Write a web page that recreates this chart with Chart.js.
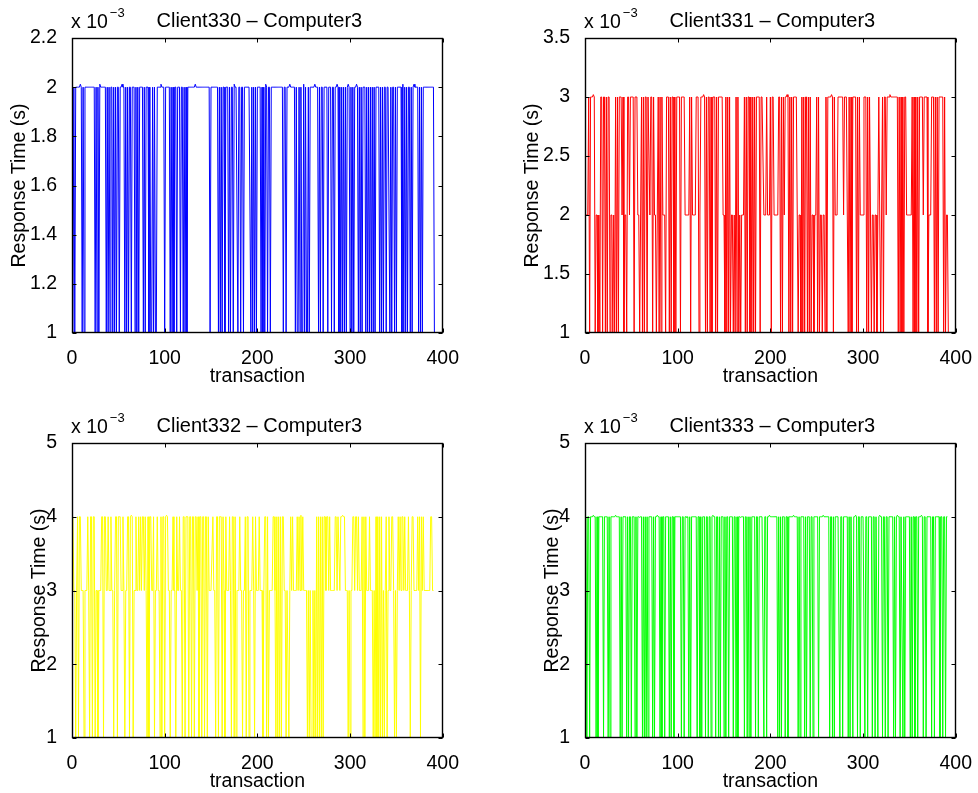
<!DOCTYPE html>
<html>
<head>
<meta charset="utf-8">
<title>Response Time – Computer3</title>
<script src="https://cdn.jsdelivr.net/npm/chart.js@4.4.0/dist/chart.umd.min.js"></script>
<style>
  html, body { margin: 0; padding: 0; background: #fff; overflow: hidden; }
  #fig { position: relative; width: 978px; height: 793px; }
  #fig canvas { position: absolute; }
</style>
</head>
<body>
<div id="fig">
  <canvas id="c330" width="465" height="388" style="left:0;top:0"></canvas>
  <canvas id="c331" width="465" height="388" style="left:513px;top:0"></canvas>
  <canvas id="c332" width="465" height="388" style="left:0;top:405px"></canvas>
  <canvas id="c333" width="465" height="388" style="left:513px;top:405px"></canvas>
</div>
<script>
/* global Chart */

// Response times in ms (the axes show them as x 10^-3 s), one character per transaction
const client330 = [
  '12122222a2', '1212222222', '222212121a', '2222221212', '1221212122',
  '122a221212', '1221222121', '2122221212', '2212112121', '12222a2221',
  '2222212121', '2212221221', '2121222222', '22a2222222', '2222222212',
  '2222222121', '2122122212', '1221a22212', '2122122222', '2212121212',
  '22212121a2', '1221222222', '2222222122', '1222a22222', '121121211a',
  '1211212222', '2a22212122', '1222212221', '22122a2121', '2121212a21',
  '212122a212', '1212221212', '1212121222', '2121212212', '2212122121',
  '222221a121', '21221212a2', '2221212122', '2222222222', '1'
].join('');
const levels330 = { '1': 1, '2': 2, 'a': 2.012 };

const client331 = [
  '22231333a3', '1221213313', '3131331221', '2131313332', '3122133233',
  '3313332212', '3131331332', '3313221231', '3132221333', '1313313133',
  '3313333222', '2231322223', '3312333a31', '3133131333', '1313333322',
  '1313131221', '2131312122', '2313133131', '3131333313', '3322232223',
  '1332222233', '1313233a31', '3131333321', '2213131331', '3131221223',
  '1312212213', '13333a3132', '2233333323', '3321313133', '3313132222',
  '3331313212', '2122123212', '31332333a3', '3333333131', '3131332222',
  '2231313131', '3333233331', '2223331313', '1333331312', '21'
].join('');
const levels331 = { '1': 1, '2': 2, '3': 3, 'a': 3.02 };

const client332 = [
  '4331341443', '3313334314', '4144133133', '3441443343', '3433134414',
  '4433431334', '414b413343', '3434344343', '1414433413', '3433141441',
  '4b43313343', '3143343314', '4144414414', '4144341441', '4414414333',
  '3433144144', '4143143334', '3144141333', '4331334144', '1333431433',
  '3433313441', '4133334431', '4141414433', '1331343433', '334343b343',
  '3331313113', '1314141414', '1443443433', '3334434434', '4b44333131',
  '3344344343', '3341414333', '4333131414', '1414131341', '3433443131',
  '3434344343', '3343134433', '3343414343', '3333334433'
].join('');
const levels332 = { '1': 1, '3': 3, '4': 4, 'b': 4.02 };

const client333 = [
  '41441444b4', '4141444441', '4444141444', '44b4444141', '4444141441',
  '44414144c4', '4141414144', '4414144b44', '1414414444', '1414414444',
  '444144144c', '4141444444', '1441414441', '4414414b44', '1441414441',
  '4144144441', '4414144c44', '4144141414', '4441441444', '44144144b4',
  '4444444141', '4144414414', '4444b44441', '4144441414', '4414414444',
  '414444b444', '4441441414', '4444144144', '4441414414', '4b41441444',
  '4144144441', '4414414b44', '1441441444', '441414b441', '4414144444',
  '1414414414', '44b4144144', '4441441444', '4414414414', '4'
].join('');
const levels333 = { '1': 1, '4': 4, 'b': 4.02, 'c': 3.99 };

const xTicks = [0, 100, 200, 300, 400];
const yRange330 = [1, 2.2, 0.2];
const yRange331 = [1, 3.5, 0.5];
const yRange332 = [1, 5, 1];
const yRange333 = [1, 5, 1];

const FONT = '"Liberation Sans", Arial, Helvetica, sans-serif';
Chart.defaults.color = '#000';
Chart.defaults.font.family = FONT;

function toPoints(str, levels) {
  return [...str].map((c, i) => ({ x: i + 1, y: levels[c] }));
}

// cadre façon MATLAB : boîte fermée, graduations vers l'intérieur, titre et facteur 10^-3
const matlabFrame = {
  id: 'matlabFrame',
  afterDatasetsDraw(chart) {
    const { ctx, chartArea: a, scales: { x, y } } = chart;
    const L = Math.round(a.left) + 0.5, R = Math.round(a.right) - 0.5;
    const T = Math.round(a.top) + 0.5, B = Math.round(a.bottom) - 0.5;
    ctx.save();
    ctx.strokeStyle = '#000';
    ctx.lineWidth = 1;
    ctx.beginPath();
    x.ticks.forEach(t => {
      const px = Math.round(x.getPixelForValue(t.value)) + 0.5;
      ctx.moveTo(px, B); ctx.lineTo(px, B - 4);
      ctx.moveTo(px, T); ctx.lineTo(px, T + 4);
    });
    y.ticks.forEach(t => {
      const py = Math.round(y.getPixelForValue(t.value)) + 0.5;
      ctx.moveTo(L, py); ctx.lineTo(L + 4, py);
      ctx.moveTo(R, py); ctx.lineTo(R - 4, py);
    });
    ctx.stroke();
    ctx.lineWidth = 1.4;
    ctx.strokeRect(L, T, R - L, B - T);
    ctx.restore();
  },
  afterDraw(chart, args, opts) {
    const { ctx, chartArea: a } = chart;
    ctx.save();
    ctx.fillStyle = '#000';
    ctx.textBaseline = 'alphabetic';
    ctx.textAlign = 'center';
    ctx.font = '20px ' + FONT;
    ctx.fillText(opts.title, (a.left + a.right) / 2 + 2, 27);
    ctx.textAlign = 'left';
    ctx.font = '19.5px ' + FONT;
    ctx.fillText('x 10', a.left - 1, 28);
    const w = ctx.measureText('x 10').width;
    ctx.font = '13px ' + FONT;
    ctx.fillText('\u22123', a.left - 1 + w + 2, 17);
    ctx.restore();
  }
};

function makeChart(id, title, str, levels, color, yRange, ylabelOffset) {
  const ctx = document.getElementById(id);
  return new Chart(ctx, {
    type: 'line',
    data: {
      datasets: [{
        data: toPoints(str, levels),
        borderColor: color,
        borderWidth: 1,
        pointRadius: 0,
        tension: 0,
        fill: false
      }]
    },
    options: {
      responsive: false,
      animation: false,
      events: [],
      layout: { padding: { top: 38, right: 18, left: 0, bottom: 0 } },
      plugins: {
        legend: { display: false },
        tooltip: { enabled: false },
        matlabFrame: { title: title }
      },
      scales: {
        x: {
          type: 'linear',
          min: xTicks[0],
          max: xTicks[xTicks.length - 1],
          afterBuildTicks: s => { s.ticks = xTicks.map(v => ({ value: v })); },
          afterFit: s => { s.height = 55; },
          grid: { display: false },
          border: { display: false },
          ticks: { font: { size: 19.5 }, padding: 6, maxRotation: 0 },
          title: {
            display: true,
            text: 'transaction',
            font: { size: 19.5, lineHeight: 1.2 },
            padding: { top: 0, bottom: 0 }
          }
        },
        y: {
          min: yRange[0],
          max: yRange[1],
          afterFit: s => { s.width = 72; },
          grid: { display: false },
          border: { display: false },
          ticks: {
            stepSize: yRange[2],
            font: { size: 19.5 },
            padding: 7,
            callback: v => String(Number(v.toFixed(2)))
          },
          title: {
            display: true,
            text: 'Response Time (s)',
            font: { size: 19.5, lineHeight: 1.2 },
            padding: { top: ylabelOffset, bottom: 0 }
          }
        }
      }
    },
    plugins: [matlabFrame]
  });
}

makeChart('c330', 'Client330 \u2013 Computer3', client330, levels330, '#0000ff', yRange330, 8);
makeChart('c331', 'Client331 \u2013 Computer3', client331, levels331, '#ff0000', yRange331, 8);
makeChart('c332', 'Client332 \u2013 Computer3', client332, levels332, '#ffff00', yRange332, 28);
makeChart('c333', 'Client333 \u2013 Computer3', client333, levels333, '#00ff00', yRange333, 28);
</script>
</body>
</html>
